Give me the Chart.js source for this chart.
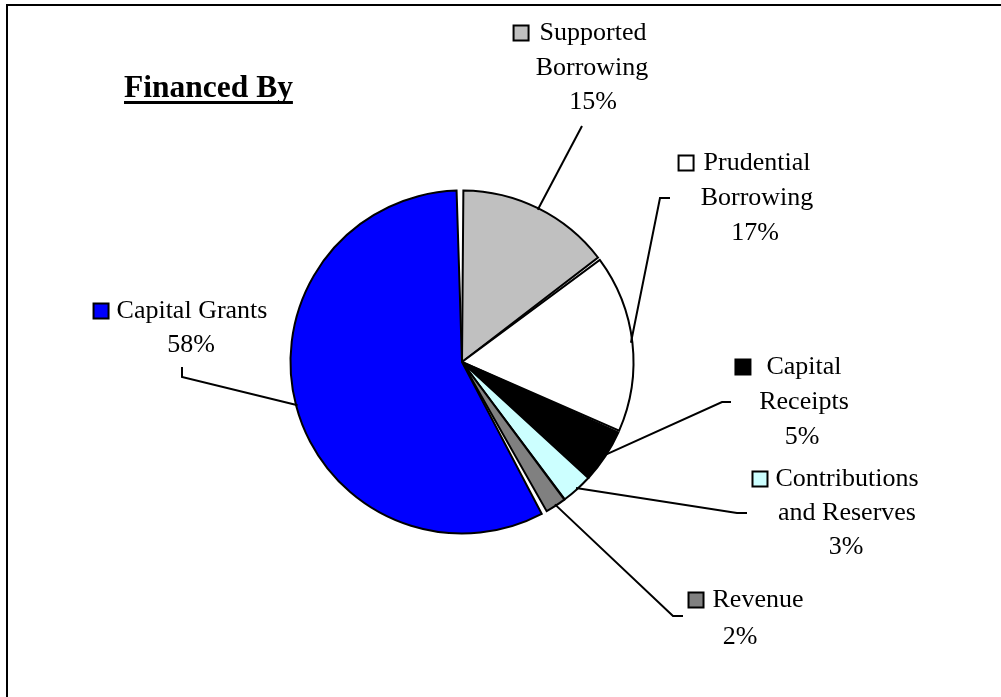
<!DOCTYPE html>
<html>
<head>
<meta charset="utf-8">
<script src="https://cdn.jsdelivr.net/npm/chart.js@4.4.1/dist/chart.umd.min.js"></script>
<style>
  html, body { margin: 0; padding: 0; background: #fff; }
  canvas { display: block; }
</style>
</head>
<body>
<canvas id="pie" width="1001" height="697"></canvas>
<script>
"use strict";

/* ── data ── */
const sliceNames = [
  "Supported Borrowing",
  "Prudential Borrowing",
  "Capital Receipts",
  "Contributions and Reserves",
  "Revenue",
  "Capital Grants",
];
const sliceLabelLines = [
  ["Supported", "Borrowing"],
  ["Prudential", "Borrowing"],
  ["Capital", "Receipts"],
  ["Contributions", "and Reserves"],
  ["Revenue"],
  ["Capital Grants"],
];
const sliceValues = [14.7, 17.0, 5.1, 3.0, 2.0, 58.2];
const chartTitle = "Financed By";

const sliceColors = ["#C0C0C0", "#FFFFFF", "#000000", "#CCFFFF", "#808080", "#0000FF"];

/* label placement: text line centres, marker gap, leader elbow points */
const labelLayout = [
  { cx: [593, 592, 593], cy: [33, 68, 102], gap: 11, leader: [[582, 126]] },
  { cx: [757, 757, 755], cy: [163, 198, 233], gap: 10, leader: [[670, 198], [660, 198]] },
  { cx: [804, 804, 802], cy: [367, 402, 437], gap: 16, leader: [[731, 402], [722, 402]] },
  { cx: [847, 847, 846], cy: [479, 513, 547], gap: 8, leader: [[747, 513], [737, 513]] },
  { cx: [758, 740], cy: [600, 637], gap: 9, leader: [[683, 616], [673, 616]] },
  { cx: [192, 191], cy: [311, 345], gap: 8, leader: [[182, 367], [182, 377]] },
];

const FONT = '"Liberation Serif", "Times New Roman", serif';

const pieDecor = {
  id: "pieDecor",
  beforeDraw(chart) {
    const ctx = chart.ctx;
    ctx.save();
    ctx.fillStyle = "#fff";
    ctx.fillRect(0, 0, chart.width, chart.height);
    ctx.restore();
  },
  afterDraw(chart) {
    const ctx = chart.ctx;
    const meta = chart.getDatasetMeta(0);
    const total = sliceValues.reduce((a, b) => a + b, 0);
    ctx.save();

    // outer frame
    ctx.strokeStyle = "#000";
    ctx.lineWidth = 2;
    ctx.strokeRect(7, 5, 1100, 800);

    // title
    ctx.fillStyle = "#000";
    ctx.font = "bold 31.5px " + FONT;
    ctx.textAlign = "left";
    ctx.textBaseline = "alphabetic";
    ctx.fillText(chartTitle, 124, 97);
    const tw = ctx.measureText(chartTitle).width;
    ctx.fillRect(124, 101, tw, 3);

    // labels + leaders
    ctx.font = "26px " + FONT;
    ctx.textBaseline = "middle";
    ctx.textAlign = "center";
    sliceValues.forEach((v, i) => {
      const lay = labelLayout[i];
      const lines = sliceLabelLines[i].concat([Math.round((v / total) * 100) + "%"]);
      lines.forEach((t, k) => {
        ctx.fillStyle = "#000";
        ctx.fillText(t, lay.cx[k], lay.cy[k]);
        if (k === 0) {
          const w = ctx.measureText(t).width;
          const size = 15;
          const mx = lay.cx[k] - w / 2 - lay.gap - size;
          const my = lay.cy[k] - size / 2;
          ctx.fillStyle = sliceColors[i];
          ctx.fillRect(mx, my, size, size);
          ctx.strokeStyle = "#000";
          ctx.lineWidth = 2;
          ctx.strokeRect(mx, my, size, size);
        }
      });

      const arc = meta.data[i];
      const mid = (arc.startAngle + arc.endAngle) / 2;
      const ex = arc.x + Math.cos(mid) * arc.outerRadius;
      const ey = arc.y + Math.sin(mid) * arc.outerRadius;
      ctx.strokeStyle = "#000";
      ctx.lineWidth = 2;
      ctx.beginPath();
      lay.leader.forEach((p, k) => (k === 0 ? ctx.moveTo(p[0], p[1]) : ctx.lineTo(p[0], p[1])));
      ctx.lineTo(ex, ey);
      ctx.stroke();
    });
    ctx.restore();
  },
};

new Chart(document.getElementById("pie"), {
  type: "pie",
  data: {
    labels: sliceNames,
    datasets: [
      {
        data: sliceValues,
        backgroundColor: sliceColors,
        borderColor: "#000",
        borderWidth: 2,
        spacing: 3,
        borderJoinStyle: "miter",
      },
    ],
  },
  options: {
    responsive: false,
    animation: false,
    radius: 170,
    layout: { padding: { left: 292, right: 369, top: 192, bottom: 165 } },
    plugins: {
      legend: { display: false },
      tooltip: { enabled: false },
      title: { display: false },
    },
  },
  plugins: [pieDecor],
});
</script>
</body>
</html>
